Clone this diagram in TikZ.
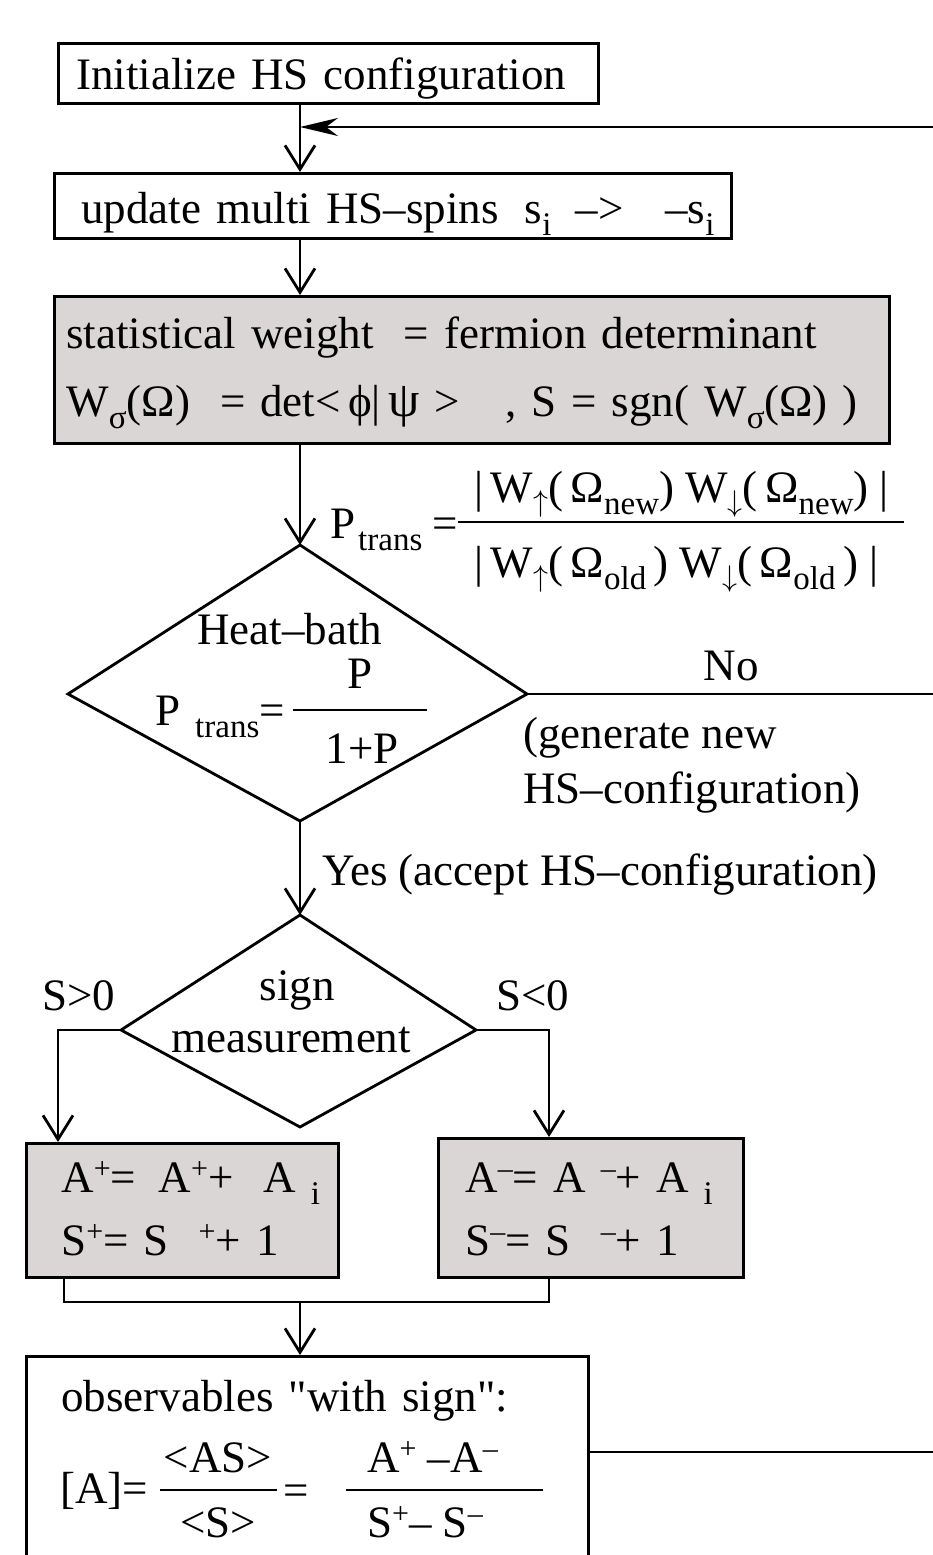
\RequirePackage{fix-cm}
\documentclass[tikz,border=0pt]{standalone}
\usepackage{fontspec}
\setmainfont{Liberation Serif}
\usetikzlibrary{arrows.meta}
\definecolor{boxgray}{RGB}{217,214,213}
\newcommand\dn[1]{\raisebox{-12pt}{\fontsize{33}{33}\selectfont #1}}
\newcommand\up[1]{\raisebox{14pt}{\fontsize{30}{30}\selectfont #1}}
\newcommand\spin[1]{\raisebox{-9pt}{\fontsize{30}{30}\selectfont$#1$}}
\tikzset{
  box/.style={draw, line width=2.8pt, anchor=north west, inner sep=0pt, align=left},
  greybox/.style={box, fill=boxgray},
  lab/.style={anchor=base west, inner sep=0pt},
  wire/.style={line width=2.8pt},
  flow/.style={wire, -{Straight Barb[length=24pt,width=30pt]}},
  loopback/.style={wire, -{Stealth[length=38pt,width=18pt,inset=12pt]}},
}
\begin{document}
\begin{tikzpicture}[x=1pt, y=-1pt, font=\fontsize{45}{54}\selectfont]
  \clip (0,0) rectangle (933,1555);
  % Kasten
  \node[box, text width=540pt, text height=46pt, text depth=14pt] (init) at (57,42)
        {\hspace*{18pt}Initialize HS configuration};
  \node[box, text width=677pt, text height=50pt, text depth=15pt] (update) at (53,172)
        {\hspace*{27pt}update multi HS–spins\hspace{26pt}s\dn{i}\hspace{24pt}–>\hspace{42pt}–s\dn{i}};
  \node[greybox, text width=835pt, text height=52pt, text depth=95pt, font=\fontsize{45}{68}\selectfont] (weight) at (53,295)
        {\hspace*{12pt}statistical weight\ \ = fermion determinant\\
         \hspace*{12pt}W\dn{σ}(Ω)\ \ = det<\,ϕ|\,{\fontsize{50}{50}\selectfont ψ} >\ \ \ , S = sgn( W\dn{σ}(Ω) )};
  % Heat-bath
  \coordinate (hT) at (300,545);
  \coordinate (hL) at (68,694);
  \coordinate (hR) at (527,694);
  \coordinate (hB) at (300,821);
  \draw[wire] (hT) -- (hR) -- (hB) -- (hL) -- cycle;
  \node[lab] (heatTitle) at (197,644) {Heat–bath};
  \node[lab, anchor=base] (heatNum) at (360,688) {P};
  \node[lab, anchor=base] (heatDen) at (362,763) {1+P};
  \draw[wire] (293,710) -- (427,710);
  \node[lab] (heatLhs) at (155,725) {P\hspace{15pt}\dn{trans}=};
  \node[lab] (ptrans) at (330,538) {P\hspace{3pt}\dn{trans}\hspace{10pt}=};
  \node[lab] (ptNum) at (474,502) {|\,W\spin{\uparrow}(\,Ω\dn{new})\ W\spin{\downarrow}(\,Ω\dn{new})\ |};
  \draw[wire] (458,522) -- (904,522);
  \node[lab] (ptDen) at (474,577) {|\,W\spin{\uparrow}(\,Ω\dn{old}\,)\ W\spin{\downarrow}(\,Ω\dn{old}\,)\ |};
  \node[lab, anchor=base] (no) at (731,680) {No};
  \node[lab, align=left, font=\fontsize{45}{55}\selectfont] (gen) at (523,803) {(generate new\\HS–configuration)};
  \node[lab] (yes) at (322,885) {Yes (accept HS–configuration)};
  % Vorzeichen
  \coordinate (sT) at (300,915);
  \coordinate (sL) at (121,1030);
  \coordinate (sR) at (476,1030);
  \coordinate (sB) at (300,1127);
  \draw[wire] (sT) -- (sR) -- (sB) -- (sL) -- cycle;
  \node[lab, anchor=base] (signA) at (297,1000) {sign};
  \node[lab, anchor=base] (signB) at (291,1052) {measurement};
  \node[lab] (pos) at (42,1010) {S>0};
  \node[lab] (neg) at (496,1010) {S<0};
  \node[greybox, text width=312pt, text height=49pt, text depth=85pt, font=\fontsize{45}{63}\selectfont] (plus) at (25,1142)
        {\hspace*{35pt}A\up{+}= \,A\up{+}+ \ A\ \dn{i}\\ \hspace*{35pt}S\up{+}= S\ \ \up{+}+ 1};
  \node[greybox, text width=305pt, text height=54pt, text depth=85pt, font=\fontsize{45}{63}\selectfont] (minus) at (437,1137)
        {\hspace*{27pt}A\up{–}= A \up{–}+ A\ \dn{i}\\ \hspace*{27pt}S\up{–}= S \ \up{–}+ 1};
  % Messung
  \node[box, text width=562pt, text height=55pt, text depth=210pt] (obs) at (25,1355)
        {\hspace*{35pt}observables \textquotedbl with sign\textquotedbl:};
  \node[lab] (obsLhs) at (60,1503) {[A]=};
  \node[lab, anchor=base] (obsNumA) at (218,1472) {<AS>};
  \draw[wire] (160,1490) -- (277,1490);
  \node[lab, anchor=base] (obsDenA) at (218,1537) {<S>};
  \node[lab] (obsEq) at (283,1505) {=};
  \node[lab] (obsNumB) at (367,1472) {A\up{+} –A\up{–}};
  \draw[wire] (346,1490) -- (543,1490);
  \node[lab] (obsDenB) at (367,1537) {S\up{+}– S\up{–}};
  % Pfeile
  \coordinate (ret) at (933,127);
  \coordinate (join) at (300,1302);
  \coordinate (out) at (933,1452);
  \draw[flow] (init.south -| hT) -- (update.north -| hT);
  \draw[loopback] (ret) -- (ret -| hT);
  \draw[flow] (update.south -| hT) -- (weight.north -| hT);
  \draw[flow] (weight.south -| hT) -- (hT);
  \draw[wire] (hR) -- (hR -| ret);
  \draw[flow] (hB) -- (sT);
  \draw[flow] (sL) -| ([xshift=33pt]plus.north west);
  \draw[flow] (sR) -| ([xshift=112pt]minus.north west);
  \draw[wire] ([xshift=39pt]plus.south west) |- (join) -| ([xshift=112pt]minus.south west);
  \draw[flow] (join) -- (join |- obs.north);
  \draw[wire] (out -| obs.east) -- (out);
\end{tikzpicture}
\end{document}
